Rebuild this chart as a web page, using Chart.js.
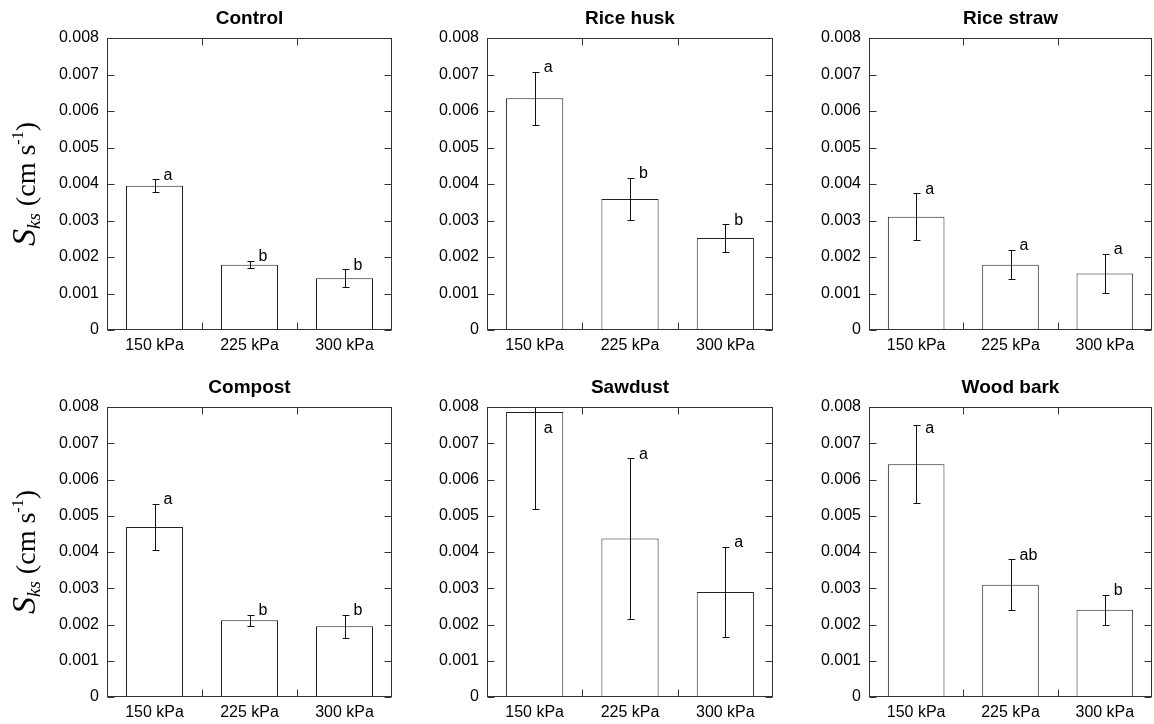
<!DOCTYPE html>
<html lang="en">
<head>
  <meta charset="UTF-8">
  <title>Sks by pressure and amendment</title>
  <script src="https://cdn.jsdelivr.net/npm/chart.js"></script>
  <style>
    body { margin: 0; background: #fff; }
    #wrap { position: relative; width: 1154px; height: 724px; }
    .panel { position: absolute; }
  </style>
</head>
<body>
<div id="wrap">
  <div class="panel" style="left:0px;top:0px;width:394px;height:360px"><canvas id="c0"></canvas></div>
  <div class="panel" style="left:400px;top:0px;width:375px;height:360px"><canvas id="c1"></canvas></div>
  <div class="panel" style="left:780px;top:0px;width:374px;height:360px"><canvas id="c2"></canvas></div>
  <div class="panel" style="left:0px;top:360px;width:394px;height:364px"><canvas id="c3"></canvas></div>
  <div class="panel" style="left:400px;top:360px;width:375px;height:364px"><canvas id="c4"></canvas></div>
  <div class="panel" style="left:780px;top:360px;width:374px;height:364px"><canvas id="c5"></canvas></div>
</div>

<script>
// data
const categories = ['150 kPa', '225 kPa', '300 kPa'];
const yTickValues = [0, 0.001, 0.002, 0.003, 0.004, 0.005, 0.006, 0.007, 0.008];

const controlMean = [0.00395, 0.00179, 0.00142];
const controlErr = [0.00018, 0.00010, 0.00024];
const controlLetters = ['a', 'b', 'b'];

const huskMean = [0.00635, 0.00359, 0.00252];
const huskErr = [0.00072, 0.00058, 0.00038];
const huskLetters = ['a', 'b', 'b'];

const strawMean = [0.00310, 0.00179, 0.00155];
const strawErr = [0.00064, 0.00040, 0.00053];
const strawLetters = ['a', 'a', 'a'];

const compostMean = [0.00469, 0.00212, 0.00195];
const compostErr = [0.00064, 0.00015, 0.00032];
const compostLetters = ['a', 'b', 'b'];

const sawdustMean = [0.00786, 0.00437, 0.00290];
const sawdustErr = [0.00267, 0.00222, 0.00125];
const sawdustLetters = ['a', 'a', 'a'];

const barkMean = [0.00642, 0.00310, 0.00241];
const barkErr = [0.00107, 0.00070, 0.00041];
const barkLetters = ['a', 'ab', 'b'];

const SANS = '"Liberation Sans", Arial, sans-serif';
const SERIF = '"Liberation Serif", "Times New Roman", serif';

// panel layout: y axis width, padding top, x axis height
const panels = [
  { id: 'c0', title: 'Control',    mean: controlMean, err: controlErr, letters: controlLetters, yw: 107, top: 38, xh: 30, yTitle: true },
  { id: 'c1', title: 'Rice husk',  mean: huskMean,    err: huskErr,    letters: huskLetters,    yw: 87,  top: 38, xh: 30 },
  { id: 'c2', title: 'Rice straw', mean: strawMean,   err: strawErr,   letters: strawLetters,   yw: 89,  top: 38, xh: 30 },
  { id: 'c3', title: 'Compost',    mean: compostMean, err: compostErr, letters: compostLetters, yw: 107, top: 47, xh: 27, yTitle: true },
  { id: 'c4', title: 'Sawdust',    mean: sawdustMean, err: sawdustErr, letters: sawdustLetters, yw: 87,  top: 47, xh: 27 },
  { id: 'c5', title: 'Wood bark',  mean: barkMean,    err: barkErr,    letters: barkLetters,    yw: 89,  top: 47, xh: 27 }
];

// frame + inward ticks on all four sides
const framePlugin = {
  id: 'frame',
  afterDraw(chart) {
    const { ctx, chartArea: a, scales } = chart;
    const L = Math.round(a.left) + 0.5, R = Math.round(a.right) - 0.5;
    const T = Math.round(a.top) + 0.5, B = Math.round(a.bottom) - 0.5;
    ctx.save();
    ctx.strokeStyle = '#333';
    ctx.lineWidth = 1;
    ctx.strokeRect(L, T, R - L, B - T);
    ctx.beginPath();
    yTickValues.forEach(v => {
      const y = Math.round(scales.y.getPixelForValue(v)) + 0.5;
      ctx.moveTo(L, y); ctx.lineTo(L + 7, y);
      ctx.moveTo(R, y); ctx.lineTo(R - 7, y);
    });
    for (let i = 0; i < categories.length - 1; i++) {
      const x = Math.round((scales.x.getPixelForValue(i) + scales.x.getPixelForValue(i + 1)) / 2) + 0.5;
      ctx.moveTo(x, T); ctx.lineTo(x, T + 7);
      ctx.moveTo(x, B); ctx.lineTo(x, B - 7);
    }
    ctx.stroke();
    ctx.restore();
  }
};

// error bars, significance letters, panel title, y axis title
const annotPlugin = {
  id: 'annot',
  afterDatasetsDraw(chart, args, opts) {
    const { ctx, chartArea: a, scales } = chart;
    const p = opts.panel;
    ctx.save();
    ctx.beginPath();
    ctx.rect(a.left, a.top, a.right - a.left, a.bottom - a.top);
    ctx.clip();
    ctx.strokeStyle = '#111';
    ctx.lineWidth = 1;
    ctx.beginPath();
    p.mean.forEach((m, i) => {
      const x = Math.round(scales.x.getPixelForValue(i)) + 0.5;
      const yHi = Math.round(scales.y.getPixelForValue(m + p.err[i])) + 0.5;
      const yLo = Math.round(scales.y.getPixelForValue(m - p.err[i])) + 0.5;
      ctx.moveTo(x, yHi); ctx.lineTo(x, yLo);
      ctx.moveTo(x - 3, yHi); ctx.lineTo(x + 4, yHi);
      ctx.moveTo(x - 3, yLo); ctx.lineTo(x + 4, yLo);
    });
    ctx.stroke();
    ctx.restore();

    ctx.save();
    ctx.fillStyle = '#000';
    ctx.font = '16px ' + SANS;
    ctx.textAlign = 'left';
    ctx.textBaseline = 'middle';
    p.mean.forEach((m, i) => {
      const x = scales.x.getPixelForValue(i) + 9;
      const y = Math.max(scales.y.getPixelForValue(m + p.err[i]) - 4, a.top + 22);
      ctx.fillText(p.letters[i], x, y);
    });

    ctx.font = 'bold 19px ' + SANS;
    ctx.textAlign = 'center';
    ctx.fillText(p.title, (a.left + a.right) / 2, a.top - 19);

    if (p.yTitle) {
      ctx.translate(35, (a.top + a.bottom) / 2);
      ctx.rotate(-Math.PI / 2);
      ctx.textAlign = 'left';
      ctx.textBaseline = 'alphabetic';
      const parts = [
        { t: 'S', f: 'italic 34px ' + SERIF, dy: 0 },
        { t: 'ks', f: 'italic 19px ' + SERIF, dy: 5 },
        { t: ' (cm s', f: '28px ' + SERIF, dy: 0 },
        { t: '-1', f: '16px ' + SERIF, dy: -12 },
        { t: ')', f: '28px ' + SERIF, dy: 0 }
      ];
      let total = 0;
      parts.forEach(s => { ctx.font = s.f; s.w = ctx.measureText(s.t).width; total += s.w; });
      let x = -total / 2;
      parts.forEach(s => { ctx.font = s.f; ctx.fillText(s.t, x, s.dy); x += s.w; });
    }
    ctx.restore();
  }
};

panels.forEach(p => {
  new Chart(document.getElementById(p.id), {
    type: 'bar',
    data: {
      labels: categories,
      datasets: [{
        data: p.mean,
        backgroundColor: '#fff',
        borderColor: '#222',
        borderWidth: 1,
        barPercentage: 0.6,
        categoryPercentage: 1.0
      }]
    },
    options: {
      responsive: true,
      maintainAspectRatio: false,
      animation: false,
      events: [],
      layout: { padding: { top: p.top, right: 2, bottom: 0, left: 0 } },
      plugins: {
        legend: { display: false },
        tooltip: { enabled: false },
        annot: { panel: p }
      },
      scales: {
        x: {
          grid: { display: false, drawTicks: false },
          border: { display: false },
          ticks: { color: '#000', font: { family: SANS, size: 16 }, padding: 6 },
          afterFit(s) { s.height = p.xh; }
        },
        y: {
          min: 0,
          max: 0.008,
          grid: { display: false, drawTicks: false },
          border: { display: false },
          afterBuildTicks(s) { s.ticks = yTickValues.map(v => ({ value: v })); },
          ticks: {
            color: '#000',
            font: { family: SANS, size: 16 },
            padding: 8,
            callback: v => (v === 0 ? '0' : v.toFixed(3))
          },
          afterFit(s) { s.width = p.yw; }
        }
      }
    },
    plugins: [framePlugin, annotPlugin]
  });
});
</script>
</body>
</html>
